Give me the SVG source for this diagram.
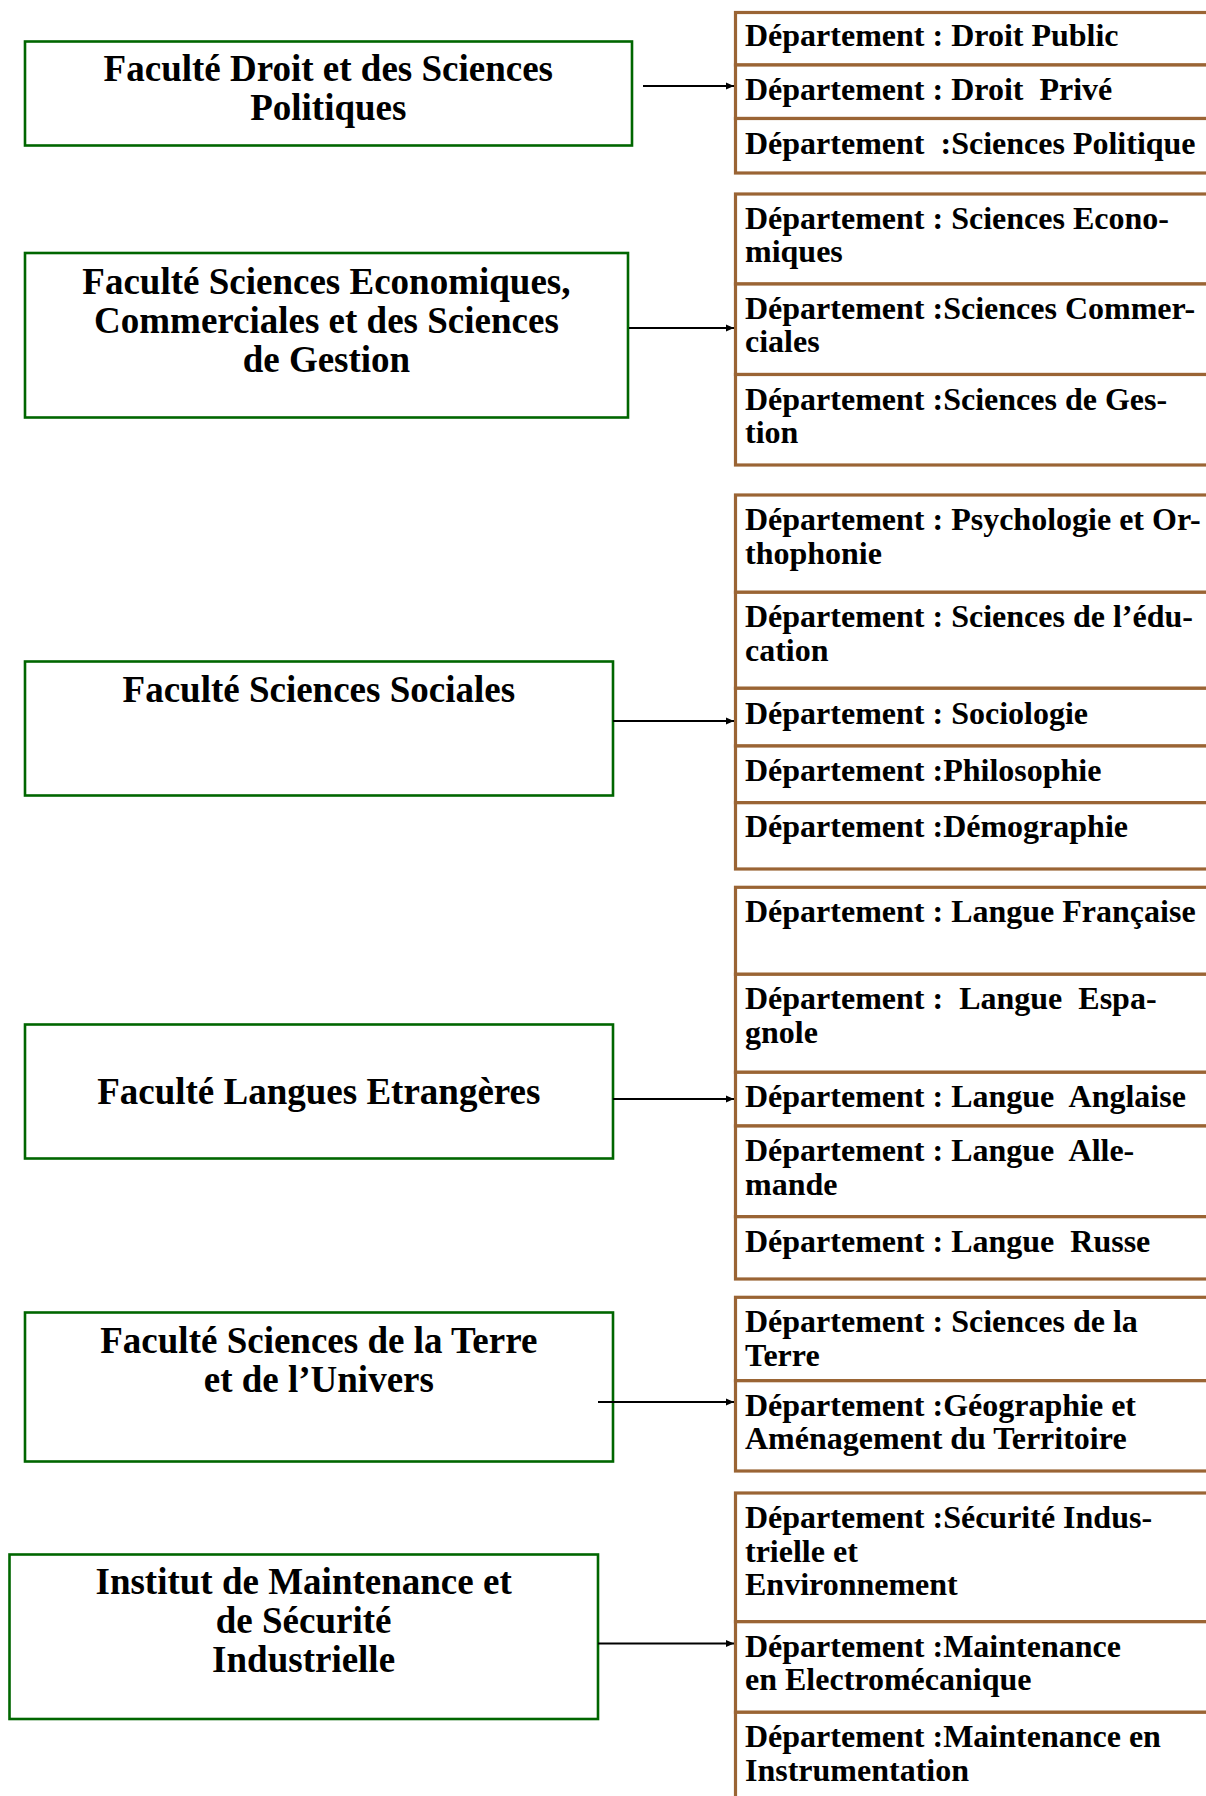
<svg xmlns="http://www.w3.org/2000/svg" width="1206" height="1796" viewBox="0 0 1206 1796">
<style>
.fac{fill:#fff;stroke:#006600;stroke-width:2.6}
.dep{fill:#fff;stroke:#9a6434;stroke-width:3.2}
.ft{font-family:"Liberation Serif","Times New Roman",serif;font-weight:bold;font-size:37px;fill:#000;text-anchor:middle}
.dt{font-family:"Liberation Serif","Times New Roman",serif;font-weight:bold;font-size:32px;fill:#000;white-space:pre}
.con{stroke:#000;stroke-width:1.9;fill:none;marker-end:url(#ah)}
</style>
<defs>
<marker id="ah" markerUnits="userSpaceOnUse" markerWidth="8" markerHeight="8" viewBox="0 0 8 8" refX="8" refY="4" orient="auto">
<path d="M0,0.6 L8,4 L0,7.4 Z" fill="#000"/>
</marker>
</defs>
<rect width="1206" height="1796" fill="#fff"/>

<!-- Departments -->
<g id="dep-droit-public"><rect class="dep" x="735.5" y="12.5" width="520" height="52.5"/><text class="dt" x="745" y="46">Département : Droit Public</text></g>
<g id="dep-droit-prive"><rect class="dep" x="735.5" y="65" width="520" height="53.5"/><text class="dt" x="745" y="100" xml:space="preserve">Département : Droit  Privé</text></g>
<g id="dep-sc-politique"><rect class="dep" x="735.5" y="118.5" width="520" height="54.5"/><text class="dt" x="745" y="154" xml:space="preserve">Département  :Sciences Politique</text></g>

<g id="dep-sc-eco"><rect class="dep" x="735.5" y="194" width="520" height="90"/><text class="dt" x="745" y="229">Département : Sciences Econo-<tspan x="745" y="262">miques</tspan></text></g>
<g id="dep-sc-com"><rect class="dep" x="735.5" y="284" width="520" height="90.5"/><text class="dt" x="745" y="319">Département :Sciences Commer-<tspan x="745" y="352">ciales</tspan></text></g>
<g id="dep-sc-gestion"><rect class="dep" x="735.5" y="374.5" width="520" height="90.5"/><text class="dt" x="745" y="409.5">Département :Sciences de Ges-<tspan x="745" y="443">tion</tspan></text></g>

<g id="dep-psycho"><rect class="dep" x="735.5" y="495" width="520" height="97.3"/><text class="dt" x="745" y="530">Département : Psychologie et Or-<tspan x="745" y="563.7">thophonie</tspan></text></g>
<g id="dep-education"><rect class="dep" x="735.5" y="592.3" width="520" height="96"/><text class="dt" x="745" y="627.3">Département : Sciences de l’édu-<tspan x="745" y="661">cation</tspan></text></g>
<g id="dep-socio"><rect class="dep" x="735.5" y="688.3" width="520" height="57.7"/><text class="dt" x="745" y="723.5">Département : Sociologie</text></g>
<g id="dep-philo"><rect class="dep" x="735.5" y="746" width="520" height="56.7"/><text class="dt" x="745" y="780.7">Département :Philosophie</text></g>
<g id="dep-demo"><rect class="dep" x="735.5" y="802.7" width="520" height="66.3"/><text class="dt" x="745" y="837.3">Département :Démographie</text></g>

<g id="dep-francais"><rect class="dep" x="735.5" y="887.3" width="520" height="87"/><text class="dt" x="745" y="922.3">Département : Langue Française</text></g>
<g id="dep-espagnol"><rect class="dep" x="735.5" y="974.3" width="520" height="98"/><text class="dt" x="745" y="1009" xml:space="preserve">Département :  Langue  Espa-<tspan x="745" y="1042.5">gnole</tspan></text></g>
<g id="dep-anglais"><rect class="dep" x="735.5" y="1072.3" width="520" height="53.7"/><text class="dt" x="745" y="1107.3" xml:space="preserve">Département : Langue  Anglaise</text></g>
<g id="dep-allemand"><rect class="dep" x="735.5" y="1126" width="520" height="90.7"/><text class="dt" x="745" y="1161" xml:space="preserve">Département : Langue  Alle-<tspan x="745" y="1194.5">mande</tspan></text></g>
<g id="dep-russe"><rect class="dep" x="735.5" y="1216.7" width="520" height="62.3"/><text class="dt" x="745" y="1251.5" xml:space="preserve">Département : Langue  Russe</text></g>

<g id="dep-terre"><rect class="dep" x="735.5" y="1297.3" width="520" height="83.4"/><text class="dt" x="745" y="1332.2">Département : Sciences de la<tspan x="745" y="1365.7">Terre</tspan></text></g>
<g id="dep-geo"><rect class="dep" x="735.5" y="1380.7" width="520" height="90.3"/><text class="dt" x="745" y="1415.5">Département :Géographie et<tspan x="745" y="1449">Aménagement du Territoire</tspan></text></g>

<g id="dep-securite"><rect class="dep" x="735.5" y="1493" width="520" height="128.7"/><text class="dt" x="745" y="1528">Département :Sécurité Indus-<tspan x="745" y="1561.5">trielle et</tspan><tspan x="745" y="1595">Environnement</tspan></text></g>
<g id="dep-electro"><rect class="dep" x="735.5" y="1621.7" width="520" height="90.6"/><text class="dt" x="745" y="1656.5">Département :Maintenance<tspan x="745" y="1690">en Electromécanique</tspan></text></g>
<g id="dep-instru"><rect class="dep" x="735.5" y="1712.3" width="520" height="120"/><text class="dt" x="745" y="1747.2">Département :Maintenance en<tspan x="745" y="1780.7">Instrumentation</tspan></text></g>

<!-- Faculties -->
<g id="fac-droit"><rect class="fac" x="25" y="41.5" width="607" height="104"/><text class="ft" x="328.3" y="81">Faculté Droit et des Sciences<tspan x="328.3" y="120">Politiques</tspan></text></g>
<g id="fac-eco"><rect class="fac" x="25" y="253" width="603" height="164.5"/><text class="ft" x="326.4" y="293.5">Faculté Sciences Economiques,<tspan x="326.4" y="332.5">Commerciales et des Sciences</tspan><tspan x="326.4" y="371.5">de Gestion</tspan></text></g>
<g id="fac-sociales"><rect class="fac" x="25" y="661.5" width="588" height="134"/><text class="ft" x="318.8" y="702">Faculté Sciences Sociales</text></g>
<g id="fac-langues"><rect class="fac" x="25" y="1024.5" width="588" height="134"/><text class="ft" x="318.8" y="1104">Faculté Langues Etrangères</text></g>
<g id="fac-terre"><rect class="fac" x="25" y="1312.5" width="588" height="149"/><text class="ft" x="318.8" y="1352.5">Faculté Sciences de la Terre<tspan x="318.8" y="1391.5">et de l’Univers</tspan></text></g>
<g id="inst-maintenance"><rect class="fac" x="9.5" y="1554.5" width="588.5" height="164.5"/><text class="ft" x="303.6" y="1594">Institut de Maintenance et<tspan x="303.6" y="1633">de Sécurité</tspan><tspan x="303.6" y="1672">Industrielle</tspan></text></g>

<!-- Connectors -->
<g id="connectors">
<path class="con" d="M643,86 H734"/>
<path class="con" d="M629,328 H734"/>
<path class="con" d="M613,721 H734"/>
<path class="con" d="M613,1099 H734"/>
<path class="con" d="M598,1402 H734"/>
<path class="con" d="M598,1643.5 H734"/>
</g>
</svg>
